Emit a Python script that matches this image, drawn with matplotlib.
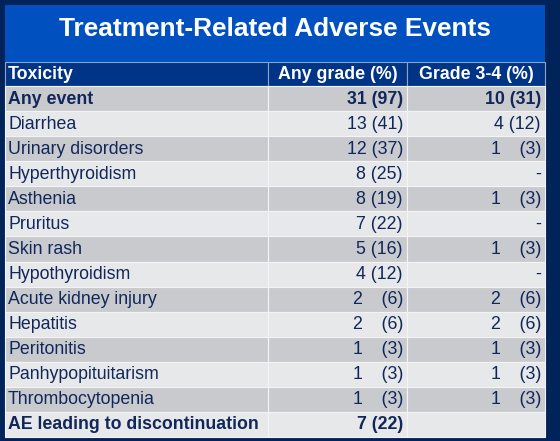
import matplotlib
matplotlib.use("Agg")
import matplotlib.pyplot as plt
from matplotlib.patches import Rectangle

title = "Treatment-Related Adverse Events"
headers = ["Toxicity", "Any grade (%)", "Grade 3-4 (%)"]
toxicity = ["Any event", "Diarrhea", "Urinary disorders", "Hyperthyroidism",
            "Asthenia", "Pruritus", "Skin rash", "Hypothyroidism",
            "Acute kidney injury", "Hepatitis", "Peritonitis",
            "Panhypopituitarism", "Thrombocytopenia",
            "AE leading to discontinuation"]
any_n = [31, 13, 12, 8, 8, 7, 5, 4, 2, 2, 1, 1, 1, 7]
any_pct = [97, 41, 37, 25, 19, 22, 16, 12, 6, 6, 3, 3, 3, 22]
# None -> "-", "" -> empty cell
g34_n = [10, 4, 1, None, 1, None, 1, None, 2, 2, 1, 1, 1, ""]
g34_pct = [31, 12, 3, None, 3, None, 3, None, 6, 6, 3, 3, 3, ""]
bold_rows = [0, 13]

NAVY = "#00245a"
TITLE_BLUE = "#0050bf"
HEAD_BLUE = "#003486"
ROW_DARK = "#c9cace"
ROW_LIGHT = "#e7e8ea"
TEXT = "#11275a"
FONT = "Liberation Sans"


def fmt(n, p):
    if n is None:
        return "-"
    if n == "":
        return ""
    if p < 10:
        # single-digit percentages are padded in the original slide
        return f"{n}\u2002  ({p})"
    return f"{n} ({p})"


fig = plt.figure(figsize=(5.6, 4.41), dpi=100)
fig.patch.set_facecolor(NAVY)
ax = fig.add_axes([0, 0, 1, 1])
ax.set_xlim(0, 560)
ax.set_ylim(441, 0)
ax.axis("off")

left, right = 5, 545
col_edges = [left, 268, 407, right]
title_top, head_top, body_top, body_bot = 5, 62, 86, 437
row_h = (body_bot - body_top) / len(toxicity)

# title band
ax.add_patch(Rectangle((left, title_top), right - left, head_top - title_top,
                       facecolor=TITLE_BLUE, edgecolor="none"))
ax.text((left + right) / 2, 29, title, color="white", fontsize=18.9,
        fontweight="bold", family=FONT, ha="center", va="center")

# header row
for i in range(3):
    x0, x1 = col_edges[i], col_edges[i + 1]
    ax.add_patch(Rectangle((x0, head_top), x1 - x0, body_top - head_top,
                           facecolor=HEAD_BLUE, edgecolor="#8fa3c8", lw=0.8))
    if i == 0:
        ax.text(x0 + 3, (head_top + body_top) / 2 + 0.5, headers[i],
                color="white", fontsize=12.8, fontweight="bold", family=FONT,
                ha="left", va="center")
    else:
        ax.text((x0 + x1) / 2, (head_top + body_top) / 2 + 0.5, headers[i],
                color="white", fontsize=12.8, fontweight="bold", family=FONT,
                ha="center", va="center")

# body rows
for r, name in enumerate(toxicity):
    y0 = body_top + r * row_h
    yc = y0 + row_h / 2 + 0.5
    color = ROW_DARK if r % 2 == 0 else ROW_LIGHT
    for i in range(3):
        x0, x1 = col_edges[i], col_edges[i + 1]
        ax.add_patch(Rectangle((x0, y0), x1 - x0, row_h, facecolor=color,
                               edgecolor="#f4f4f6", lw=0.8))
    weight = "bold" if r in bold_rows else "normal"
    ax.text(col_edges[0] + 3, yc, name, color=TEXT, fontsize=12.8,
            fontweight=weight, family=FONT, ha="left", va="center")
    ax.text(col_edges[2] - 4, yc, fmt(any_n[r], any_pct[r]), color=TEXT,
            fontsize=12.8, fontweight=weight, family=FONT, ha="right", va="center")
    ax.text(col_edges[3] - 4, yc, fmt(g34_n[r], g34_pct[r]), color=TEXT,
            fontsize=12.8, fontweight=weight, family=FONT, ha="right", va="center")

fig.savefig("out.png", dpi=100, facecolor=NAVY)
